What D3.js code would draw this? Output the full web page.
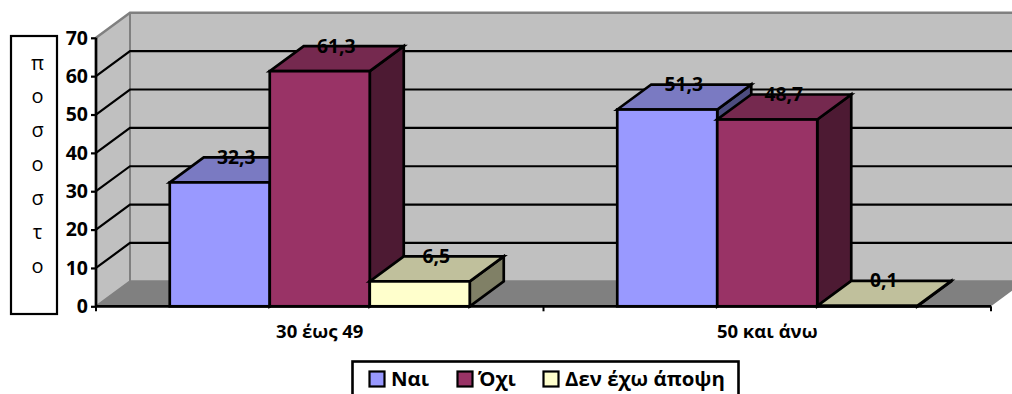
<!DOCTYPE html>
<html><head><meta charset="utf-8">
<script src="https://cdnjs.cloudflare.com/ajax/libs/d3/7.8.5/d3.min.js"></script>
<style>html,body{margin:0;padding:0;background:#fff;overflow:hidden}svg{display:block}text{font-family:"Open Sans",sans-serif;fill:#000}</style>
</head><body><div id="c"></div>
<script>
const categories = ["30 έως 49", "50 και άνω"];
const seriesNames = ["Ναι", "Όχι", "Δεν έχω άποψη"];
const nai = [32.3, 51.3];
const ochi = [61.3, 48.7];
const noOpinion = [6.5, 0.1];
const valueLabels = [["32,3","51,3"],["61,3","48,7"],["6,5","0,1"]];
const yTicks = [0,10,20,30,40,50,60,70];
const titleLetters = ["π","ο","σ","ο","σ","τ","ο"];
const colors = [
 {front:"#9999FF",top:"#7A7AC2",side:"#4D4D80"},
 {front:"#993366",top:"#75294F",side:"#4D1A33"},
 {front:"#FFFFCC",top:"#C0C09C",side:"#808066"}];
const series = [nai, ochi, noOpinion];

const W=1012,H=394, dx=34, dy=-25;
const svg=d3.select("#c").append("svg").attr("width",W).attr("height",H);
const y=d3.scaleLinear().domain([0,70]).range([306.3,37.8]);
const x0=d3.scaleBand().domain(categories).range([96,991]);
const x1=d3.scaleBand().domain(d3.range(3)).range([-150,150]);
const pts=a=>a.map(p=>p.join(",")).join(" ");
const L=96,R=991,Y0=y(0),Y1=y(70);

// walls
svg.append("polygon").attr("points",pts([[L+dx,Y0+dy],[R+dx,Y0+dy],[R+dx,Y1+dy],[L+dx,Y1+dy]])).attr("fill","#C0C0C0");
svg.append("polygon").attr("points",pts([[L,Y0],[L+dx,Y0+dy],[L+dx,Y1+dy],[L,Y1]])).attr("fill","#C0C0C0");
svg.append("polygon").attr("points",pts([[L,Y0],[R,Y0],[R+dx,Y0+dy],[L+dx,Y0+dy]])).attr("fill","#808080");
// wall edges
svg.append("polyline").attr("points",pts([[L,Y1],[L+dx,Y1+dy],[R+dx,Y1+dy]])).attr("fill","none").attr("stroke","#808080").attr("stroke-width",2.5);
svg.append("polyline").attr("points",pts([[L,Y0],[L+dx,Y0+dy],[L+dx,Y1+dy]])).attr("fill","none").attr("stroke","#808080").attr("stroke-width",2);
svg.append("line").attr("x1",L+dx).attr("x2",R+dx).attr("y1",Y0+dy).attr("y2",Y0+dy).attr("stroke","#808080").attr("stroke-width",2);
// gridlines
yTicks.filter(t=>t>0&&t<70).forEach(t=>{
  svg.append("polyline").attr("points",pts([[L,y(t)],[L+dx,y(t)+dy],[R+dx,y(t)+dy]]))
    .attr("fill","none").attr("stroke","#000").attr("stroke-width",2.2);
});
// bars
const sw=2.7;
const labels=[];
series.forEach((vals,s)=>{
  vals.forEach((v,c)=>{
    const cx=x0(categories[c])+x0.bandwidth()/2;
    const xa=cx+x1(s), xb=xa+x1.bandwidth(), yt=y(v), yb=y(0);
    const g=svg.append("g").attr("stroke","#000").attr("stroke-width",sw).attr("stroke-linejoin","miter");
    g.append("polygon").attr("points",pts([[xb,yb],[xb+dx,yb+dy],[xb+dx,yt+dy],[xb,yt]])).attr("fill",colors[s].side);
    g.append("polygon").attr("points",pts([[xa,yt],[xb,yt],[xb+dx,yt+dy],[xa+dx,yt+dy]])).attr("fill",colors[s].top);
    g.append("rect").attr("x",xa).attr("y",yt).attr("width",xb-xa).attr("height",yb-yt).attr("fill",colors[s].front);
    labels.push({t:valueLabels[s][c],x:(xa+xb)/2+dx/2,y:yt+dy});
  });
});
// axes
const yAxis=d3.axisLeft(y).tickValues(yTicks).tickSize(5).tickPadding(3);
const ya=svg.append("g").attr("transform",`translate(${L},0)`).call(yAxis);
ya.selectAll("path").attr("stroke","#000").attr("stroke-width",2.7).attr("d",`M0,${Y1}V${Y0}`);
ya.selectAll("line").attr("stroke","#000").attr("stroke-width",2.2);
ya.selectAll("text").attr("font-size",19.5).attr("font-weight",700).style("font-family",'"Open Sans",sans-serif');
const xAxis=d3.axisBottom(x0).tickSize(0).tickPadding(19);
const xa=svg.append("g").attr("transform",`translate(0,${Y0})`).call(xAxis);
xa.selectAll("path").attr("stroke","#000").attr("stroke-width",2.7).attr("d",`M${L},0H${R}`);
xa.selectAll("text").attr("font-size",18.5).attr("font-weight",700).style("font-family",'"Open Sans",sans-serif');
[L,(L+R)/2,R].forEach(t=>svg.append("line").attr("x1",t).attr("x2",t).attr("y1",Y0).attr("y2",Y0+5).attr("stroke","#000").attr("stroke-width",2));
// value labels
labels.forEach(l=>svg.append("text").attr("x",l.x-.5).attr("y",l.y+6.5).attr("text-anchor","middle").attr("font-size",19.3).attr("font-weight",700).text(l.t));
// title box
svg.append("rect").attr("x",11).attr("y",36).attr("width",46).attr("height",278).attr("fill","#fff").attr("stroke","#000").attr("stroke-width",2.2);
titleLetters.forEach((t,i)=>svg.append("text").attr("x",37.5).attr("y",[70,103,137,171,205,239,273][i]).attr("text-anchor","middle").attr("font-size",20).text(t));
// legend
svg.append("rect").attr("x",352.5).attr("y",361.5).attr("width",386).attr("height",50).attr("fill","#fff").attr("stroke","#000").attr("stroke-width",2.6);
[[369,391],[457,478],[543,565]].forEach((p,i)=>{
  svg.append("rect").attr("x",p[0]+.5).attr("y",371.5).attr("width",15).attr("height",15).attr("fill",colors[i].front).attr("stroke","#000").attr("stroke-width",2.2);
  svg.append("text").attr("x",p[1]).attr("y",386).attr("font-size",20.4).attr("font-weight",700).text(seriesNames[i]);
});
</script></body></html>
